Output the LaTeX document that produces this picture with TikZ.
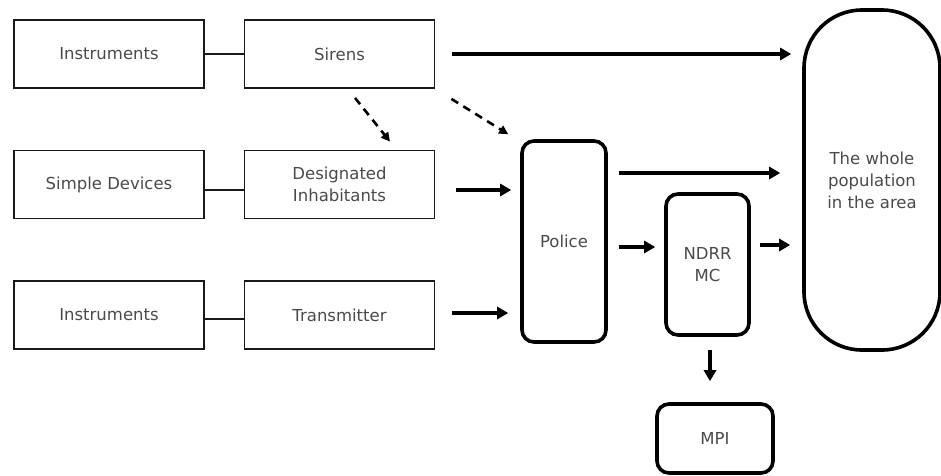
\documentclass[tikz,border=0pt]{standalone}
\usepackage{fontspec}
\setmainfont{DejaVu Sans}
\usetikzlibrary{arrows.meta}
\definecolor{txt}{HTML}{4A4A4A}
\begin{document}
\begin{tikzpicture}[x=1pt,y=-1pt,
  every node/.style={font=\fontsize{16.5}{22}\selectfont, text=txt, align=center, inner sep=0pt},
  plainbox/.style={draw=black!90, line width=1.8pt, minimum width=190pt, minimum height=68pt},
  roundbox/.style={draw=black, line width=3.6pt, rounded corners=12pt},
  link/.style={draw=black!90, line width=2.4pt},
  arr/.style={line width=3.4pt, -{Triangle[length=11pt,width=12pt]}},
  darr/.style={line width=2.6pt, dash pattern=on 8pt off 6pt, -{Triangle[length=9pt,width=9pt]}}]
\useasboundingbox (0,0) rectangle (941,475);

% source boxes
\node[plainbox] (ins1)   at (109,54)    {Instruments};
\node[plainbox] (sirens) at (339.5,54)  {Sirens};
\node[plainbox] (simple) at (109,184.5) {Simple Devices};
\node[plainbox] (desig)  at (339.5,184.5) {Designated\\Inhabitants};
\node[plainbox] (ins3)   at (109,315)   {Instruments};
\node[plainbox] (trans)  at (339.5,315) {Transmitter};

% receiving boxes
\node[roundbox, minimum width=84pt, minimum height=201pt] (police) at (564,241.5) {Police};
\node[roundbox, minimum width=83pt, minimum height=141pt] (ndrr) at (707.5,264.5) {NDRR\\MC};
\node[roundbox, minimum width=116pt, minimum height=69pt] (mpi) at (715,438.5) {MPI};
\node[draw=black, line width=3.6pt, rounded corners=58pt, minimum width=136pt, minimum height=340pt] (whole) at (872,180) {The whole\\population\\in the area};

% links between devices and senders
\draw[link] (ins1.east) -- (sirens.west);
\draw[link] ([yshift=-5.5pt]simple.east) -- ([yshift=-5.5pt]desig.west);
\draw[link] ([yshift=-4pt]ins3.east) -- ([yshift=-4pt]trans.west);

% dashed alerts from the sirens
\draw[darr] ([shift={(15.5pt,-9pt)}]sirens.south) -- ([shift={(50.5pt,8pt)}]desig.north);
\draw[darr] ([shift={(16pt,-10pt)}]sirens.south east) -- ([shift={(-12pt,5pt)}]police.north west);

% solid flows
\draw[arr] ([xshift=17pt]sirens.east) -- ([xshift=-11pt]sirens.east -| whole.west);
\draw[arr] ([shift={(21pt,-5.5pt)}]desig.east) -- ([shift={(-9pt,-5.5pt)}]desig.east -| police.west);
\draw[arr] ([shift={(17pt,2pt)}]trans.east) -- ([shift={(-12pt,2pt)}]trans.east -| police.west);
\draw[arr] ([shift={(11pt,68.5pt)}]police.east) -- ([shift={(-22pt,68.5pt)}]police.east -| whole.west);
\draw[arr] ([shift={(11pt,-5.5pt)}]police.east) -- ([shift={(-9pt,-5.5pt)}]police.east -| ndrr.west);
\draw[arr] ([shift={(9pt,19.5pt)}]ndrr.east) -- ([shift={(-12pt,19.5pt)}]ndrr.east -| whole.west);
\draw[arr] ([shift={(2.5pt,-13pt)}]ndrr.south) -- ([shift={(2.5pt,21pt)}]ndrr.south |- mpi.north);
\end{tikzpicture}
\end{document}
